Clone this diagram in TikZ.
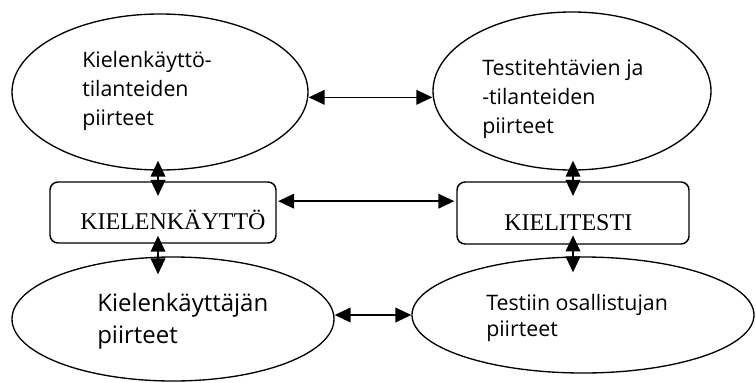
\documentclass[tikz,border=0pt]{standalone}
\usepackage{fontspec}
\setmainfont{Open Sans}
\newfontfamily\capsfont{Liberation Serif}
\usetikzlibrary{arrows.meta,shapes.geometric}

\begin{document}
\begin{tikzpicture}[x=0.75pt,y=-0.75pt,
    oval/.style={ellipse,draw,line width=1pt,inner sep=0pt},
    box/.style={rectangle,rounded corners=6pt,draw,line width=1.1pt,inner sep=0pt},
    txt/.style={anchor=west,align=left,inner sep=0pt},
    dbl/.style={{Triangle[length=12pt,width=11pt]}-{Triangle[length=12pt,width=11pt]},line width=1.2pt}]
  \useasboundingbox (0,0) rectangle (756,382);
  % ovals and boxes
  \node [oval,minimum width=222pt,minimum height=117pt] (use) at (160,92) {};
  \node [oval,minimum width=208.5pt,minimum height=118.5pt] (task) at (572,91) {};
  \node [box,minimum width=169.5pt,minimum height=45.75pt] (lang) at (163,212.5) {};
  \node [box,minimum width=174pt,minimum height=46.5pt] (test) at (573,213) {};
  \node [oval,minimum width=241.5pt,minimum height=93pt] (user) at (173,319) {};
  \node [oval,minimum width=256.5pt,minimum height=87pt] (taker) at (583,315) {};
  % texts
  \node [txt,font=\fontsize{16}{21.75}\selectfont] (usetxt) at (82,91) {Kielenkäyttö-\\tilanteiden\\piirteet};
  \node [txt,font=\fontsize{16}{21.75}\selectfont] (tasktxt) at (482,99) {Testitehtävien ja\\-tilanteiden\\piirteet};
  \node [txt,anchor=base west,font=\capsfont\fontsize{18}{20}\selectfont] (langtxt) at (80,229) {KIELENKÄYTTÖ};
  \node [txt,anchor=base west,font=\capsfont\fontsize{18}{20}\selectfont] (testtxt) at (504,230) {KIELITESTI};
  \node [txt,font=\fontsize{18}{24}\selectfont] (usertxt) at (97,321) {Kielenkäyttäjän\\piirteet};
  \node [txt,font=\fontsize{16}{20}\selectfont] (takertxt) at (486,318) {Testiin osallistujan\\piirteet};
  % arrows
  \draw[dbl] ([yshift=-4pt]use.east) -- ([yshift=-4pt]use.east -| task.west);
  \draw[dbl] ([yshift=8.5pt,xshift=1pt]lang.east) -- ([yshift=8.5pt,xshift=-1.5pt]lang.east -| test.west);
  \draw[dbl] ([yshift=3pt]user.east) -- ([yshift=3pt]user.east -| taker.west);
  \draw[dbl] ([yshift=7.5pt,xshift=-1.5pt]use.south) -- ([yshift=-11pt,xshift=-1.5pt]use.south |- lang.north);
  \draw[dbl] ([yshift=6pt,xshift=-1.5pt]use.south |- lang.south) -- ([yshift=-13.5pt,xshift=-1.5pt]use.south |- user.north);
  \draw[dbl] ([yshift=7.5pt]test.north |- task.south) -- ([yshift=-11pt]test.north);
  \draw[dbl] ([yshift=7pt]test.south) -- ([yshift=-12pt]test.south |- taker.north);
\end{tikzpicture}
\end{document}
